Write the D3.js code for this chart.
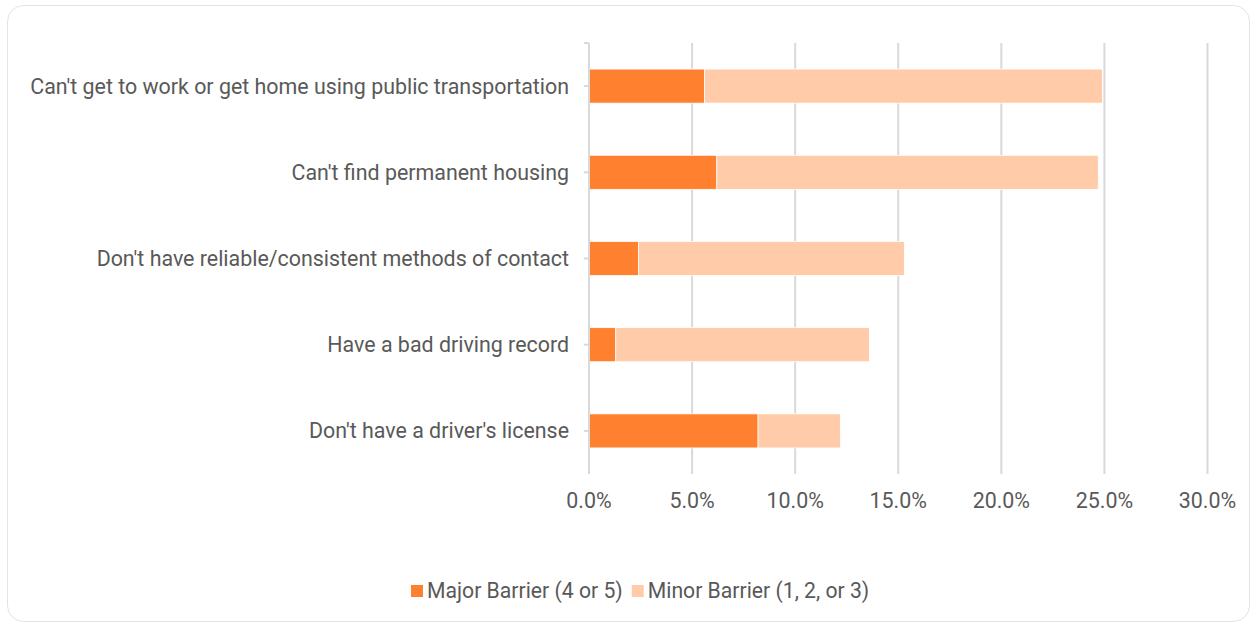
<!DOCTYPE html>
<html lang="en">
<head>
<meta charset="UTF-8">
<title>Barriers</title>
<script src="https://cdn.jsdelivr.net/npm/d3@7"></script>
<style>
  body { margin: 0; background: #fff; font-family: Roboto, sans-serif; }
</style>
</head>
<body>
<svg id="chart" width="1256" height="623"></svg>
<script>
const categories = [
  "Can't get to work or get home using public transportation",
  "Can't find permanent housing",
  "Don't have reliable/consistent methods of contact",
  "Have a bad driving record",
  "Don't have a driver's license"
];
const major = [5.6, 6.2, 2.4, 1.3, 8.2];
const minor = [19.3, 18.5, 12.9, 12.3, 4.0];
const seriesNames = ["Major Barrier (4 or 5)", "Minor Barrier (1, 2, or 3)"];
const colors = ["#FF8130", "#FFCBA9"];
const ticks = [0, 5, 10, 15, 20, 25, 30];

const svg = d3.select("#chart");
const textColor = "#595959";
const fontSize = 21.4;

svg.append("rect")
  .attr("x", 7.5).attr("y", 5.5)
  .attr("width", 1242).attr("height", 616)
  .attr("rx", 16)
  .attr("fill", "#fff")
  .attr("stroke", "#e3e3e3");

const x = d3.scaleLinear().domain([0, 30]).range([589, 1207.5]);
const y = d3.scaleBand().domain(categories).range([43, 474]).paddingInner(0.605).paddingOuter(0.3025);

// gridlines
svg.append("g").selectAll("line")
  .data(ticks.slice(1))
  .join("line")
    .attr("x1", d => x(d)).attr("x2", d => x(d))
    .attr("y1", 43).attr("y2", 474)
    .attr("stroke", "#d9d9d9").attr("stroke-width", 2);

// stacked bars
const rows = categories.map((c, i) => ({ cat: c, major: major[i], minor: minor[i] }));
const stack = d3.stack().keys(["major", "minor"])(rows);

svg.append("g").selectAll("g")
  .data(stack)
  .join("g")
    .attr("fill", (d, i) => colors[i])
  .selectAll("rect")
  .data(d => d)
  .join("rect")
    .attr("x", d => x(d[0]))
    .attr("width", d => x(d[1]) - x(d[0]))
    .attr("y", d => y(d.data.cat))
    .attr("height", y.bandwidth())
    .attr("stroke", "#fff").attr("stroke-width", 0.75);

// vertical axis line and ticks
svg.append("line")
  .attr("x1", x(0)).attr("x2", x(0))
  .attr("y1", 43).attr("y2", 474)
  .attr("stroke", "#d9d9d9").attr("stroke-width", 2);
svg.append("g").selectAll("line")
  .data([43].concat(categories.map(c => y(c) + y.bandwidth() / 2)))
  .join("line")
    .attr("x1", x(0) - 5).attr("x2", x(0))
    .attr("y1", d => d).attr("y2", d => d)
    .attr("stroke", "#d9d9d9").attr("stroke-width", 2);

// category labels
svg.append("g").selectAll("text")
  .data(categories)
  .join("text")
    .attr("x", 569)
    .attr("y", d => y(d) + y.bandwidth() / 2)
    .attr("dy", "0.35em")
    .attr("text-anchor", "end")
    .attr("fill", textColor)
    .attr("font-size", fontSize)
    .text(d => d);

// x tick labels
svg.append("g").selectAll("text")
  .data(ticks)
  .join("text")
    .attr("x", d => x(d))
    .attr("y", 508)
    .attr("text-anchor", "middle")
    .attr("fill", textColor)
    .attr("font-size", fontSize)
    .text(d => d3.format(".1f")(d) + "%");

// legend
const legend = svg.append("g");
const items = legend.selectAll("g")
  .data(seriesNames)
  .join("g");
items.append("rect")
  .attr("width", 12).attr("height", 12)
  .attr("y", -6)
  .attr("fill", (d, i) => colors[i]);
items.append("text")
  .attr("x", 16)
  .attr("dy", "0.35em")
  .attr("fill", textColor)
  .attr("font-size", 21.2)
  .text(d => d);
let lx = 411;
items.each(function() {
  d3.select(this).attr("transform", `translate(${lx},591)`);
  lx += this.getBBox().width + 9;
});
</script>
</body>
</html>
